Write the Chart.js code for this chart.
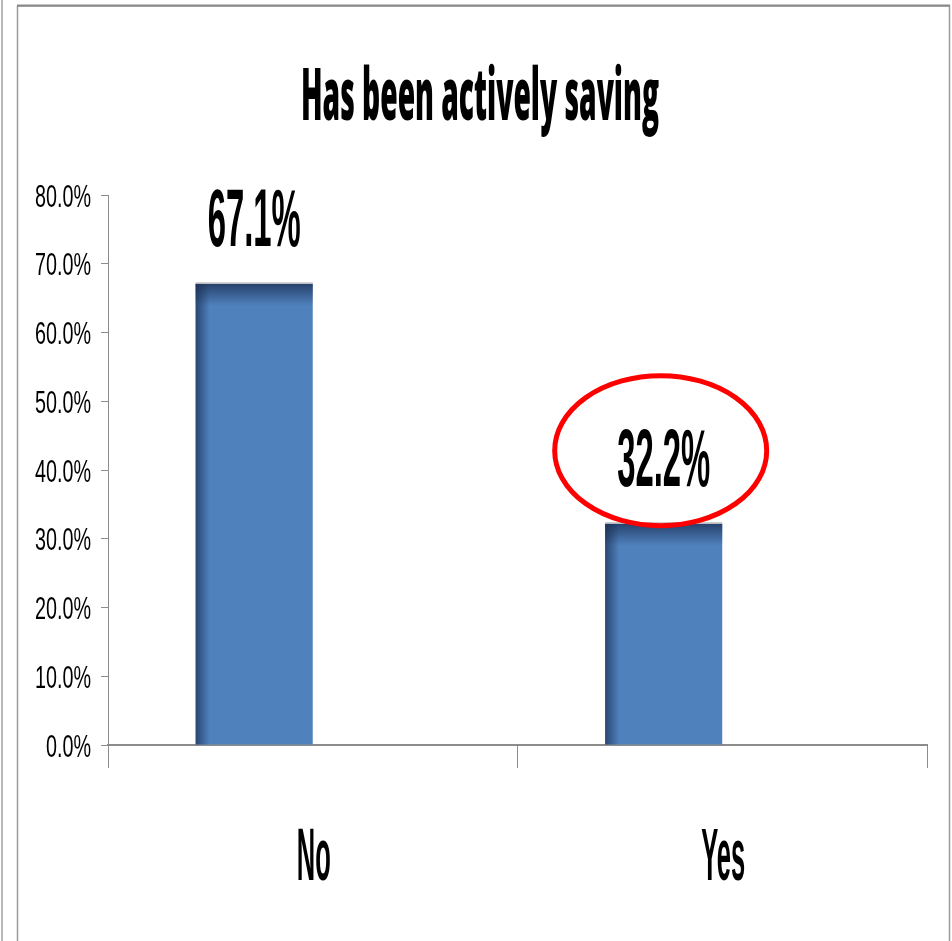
<!DOCTYPE html>
<html>
<head>
<meta charset="utf-8">
<script src="https://cdn.jsdelivr.net/npm/chart.js@4"></script>
<style>
  html, body { margin: 0; padding: 0; background: #fff; }
  #wrap { width: 952px; height: 941px; }
</style>
</head>
<body>
<div id="wrap"><canvas id="savingChart" width="952" height="941"></canvas></div>
<script>
// values
const categories = ['No', 'Yes'];
const savingShare = [67.1, 32.2];
const emptySeries = [null, null];   // 2nd series of the sheet is empty, it pushes the bars left
const yTickValues = [0, 10, 20, 30, 40, 50, 60, 70, 80];
const chartTitle = 'Has been actively saving';
const circledIndex = 1;             // the "Yes" label has a red ring round it

function pct(v) {
    return v.toFixed(1) + '%';
}

// draw text squeezed horizontally (the original uses narrow Office fonts)
function squeezed(ctx, text, x, y, font, sx, align) {
    ctx.save();
    ctx.font = font;
    ctx.textAlign = align || 'center';
    ctx.textBaseline = 'alphabetic';
    ctx.fillStyle = '#000';
    ctx.translate(x, y);
    ctx.scale(sx, 1);
    ctx.fillText(text, 0, 0);
    ctx.restore();
}

function fitScale(ctx, font, sample, width) {
    ctx.save();
    ctx.font = font;
    const w = ctx.measureText(sample).width;
    ctx.restore();
    return width / w;
}

const titleFont = '800 73px "Open Sans"';
const tickFont = '32px "Liberation Sans"';
const valueFont = 'bold 82px "Liberation Sans"';
const catFont = 'bold 74px "Liberation Sans"';

// white page + the grey frame lines of the slide
const framePlugin = {
    id: 'frame',
    beforeDraw(chart) {
        const ctx = chart.ctx;
        ctx.save();
        ctx.fillStyle = '#fff';
        ctx.fillRect(0, 0, chart.width, chart.height);
        ctx.lineWidth = 2;
        ctx.strokeStyle = '#b8b8b8';
        ctx.beginPath(); ctx.moveTo(2, 0); ctx.lineTo(2, chart.height); ctx.stroke();
        ctx.strokeStyle = '#9a9a9a';
        ctx.lineWidth = 1.5;
        ctx.beginPath();
        ctx.moveTo(17.5, chart.height);
        ctx.lineTo(17.5, 6);
        ctx.lineTo(949.5, 6);
        ctx.lineTo(949.5, chart.height);
        ctx.stroke();
        ctx.strokeStyle = '#8a8a8a';
        ctx.lineWidth = 2;
        ctx.beginPath(); ctx.moveTo(17, 5.5); ctx.lineTo(950, 5.5); ctx.stroke();
        ctx.restore();
    }
};

// dark shading at top and left edge of each bar, like the Excel bevel
const shadePlugin = {
    id: 'shade',
    afterDatasetsDraw(chart) {
        const ctx = chart.ctx;
        const meta = chart.getDatasetMeta(0);
        ctx.save();
        meta.data.forEach(bar => {
            const left = bar.x - bar.width / 2;
            const top = bar.y;
            const h = bar.base - bar.y;

            let g = ctx.createLinearGradient(0, top, 0, top + 22);
            g.addColorStop(0, 'rgba(25,45,80,0.75)');
            g.addColorStop(1, 'rgba(25,45,80,0)');
            ctx.fillStyle = g;
            ctx.fillRect(left, top, bar.width, 22);

            g = ctx.createLinearGradient(left, 0, left + 14, 0);
            g.addColorStop(0, 'rgba(25,45,80,0.7)');
            g.addColorStop(1, 'rgba(25,45,80,0)');
            ctx.fillStyle = g;
            ctx.fillRect(left, top, 14, h);

            ctx.fillStyle = '#c8c8c8';
            ctx.fillRect(left, top - 1.5, bar.width, 1.5);
        });
        ctx.restore();
    }
};

// all the text (title, ticks, categories, values) + the red ring
const textPlugin = {
    id: 'texts',
    afterDraw(chart) {
        const ctx = chart.ctx;
        const xs = chart.scales.x;
        const ys = chart.scales.y;

        squeezed(ctx, chartTitle, 480, 120, titleFont, fitScale(ctx, titleFont, chartTitle, 358));

        const tickSx = fitScale(ctx, tickFont, '80.0%', 56);
        ys.ticks.forEach(t => {
            squeezed(ctx, pct(t.value), 91, ys.getPixelForValue(t.value) + 11.5, tickFont, tickSx, 'right');
        });

        const catSx = fitScale(ctx, catFont, 'No', 34);
        categories.forEach((c, i) => {
            squeezed(ctx, c, xs.getPixelForValue(i) + 1, 880, catFont, catSx);
        });

        const valSx = fitScale(ctx, valueFont, '67.1%', 93);
        const meta = chart.getDatasetMeta(0);
        meta.data.forEach((bar, i) => {
            squeezed(ctx, pct(savingShare[i]), bar.x, bar.y - 38, valueFont, valSx);
        });

        const ring = meta.data[circledIndex];
        ctx.save();
        ctx.strokeStyle = '#ff0000';
        ctx.lineWidth = 5;
        ctx.beginPath();
        ctx.ellipse(ring.x - 3, ring.y - 73, 106, 75, 0, 0, Math.PI * 2);
        ctx.stroke();
        ctx.restore();
    }
};

const ctx = document.getElementById('savingChart').getContext('2d');
window.savingChart = new Chart(ctx, {
    type: 'bar',
    data: {
        labels: categories,
        datasets: [{
            label: chartTitle,
            data: savingShare,
            backgroundColor: '#4F81BD',
            categoryPercentage: 0.572,
            barPercentage: 1
        }, {
            label: '',
            data: emptySeries,
            backgroundColor: '#C0504D',
            categoryPercentage: 0.572,
            barPercentage: 1
        }]
    },
    options: {
        responsive: false,
        animation: false,
        layout: { padding: { top: 195, right: 25, left: 0, bottom: 0 } },
        plugins: {
            legend: { display: false },
            tooltip: { enabled: false },
            title: { display: false }
        },
        scales: {
            x: {
                grid: { offset: true, drawOnChartArea: false, tickLength: 23, color: '#8c8c8c', lineWidth: 1 },
                border: { color: '#8c8c8c', width: 2 },
                ticks: { display: false },
                afterFit: s => { s.height = 196; }
            },
            y: {
                min: 0,
                max: 80,
                afterBuildTicks: s => { s.ticks = yTickValues.map(v => ({ value: v })); },
                grid: { drawOnChartArea: false, tickLength: 7, color: '#8c8c8c', lineWidth: 1 },
                border: { color: '#8c8c8c', width: 1 },
                ticks: { display: false },
                afterFit: s => { s.width = 108; }
            }
        }
    },
    plugins: [framePlugin, shadePlugin, textPlugin]
});
</script>
</body>
</html>
